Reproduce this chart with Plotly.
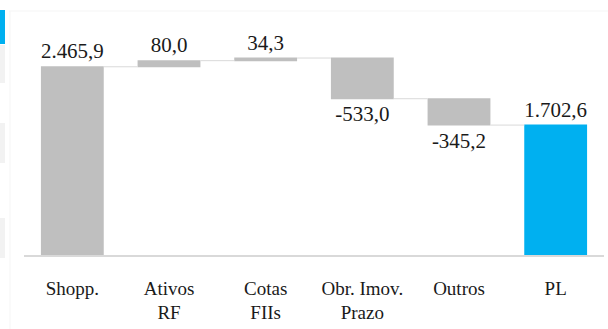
import plotly.graph_objects as go

# Waterfall: from shopping-mall assets to net equity (PL)
categories = ["Shopp.", "Ativos<br>RF", "Cotas<br>FIIs", "Obr. Imov.<br>Prazo", "Outros", "PL"]
values = [2465.9, 80.0, 34.3, -533.0, -345.2, 1702.6]
measures = ["relative", "relative", "relative", "relative", "relative", "absolute"]

GRAY = "#BFBFBF"
BLUE = "#00B0F0"
FONT = "Liberation Serif"


def fmt_br(v):
    s = f"{v:,.1f}"
    return s.replace(",", "X").replace(".", ",").replace("X", ".")


labels = [fmt_br(v) for v in values]

fig = go.Figure(
    go.Waterfall(
        x=categories,
        y=values,
        measure=measures,
        text=labels,
        textposition="outside",
        textfont=dict(family=FONT, size=21, color="#1a1a1a"),
        cliponaxis=False,
        increasing=dict(marker=dict(color=GRAY)),
        decreasing=dict(marker=dict(color=GRAY)),
        totals=dict(marker=dict(color=BLUE)),
        connector=dict(mode="between", line=dict(color="#D9D9D9", width=1)),
        hoverinfo="skip",
    )
)

# thin side panels at the far left edge of the page
px_w, px_h = 608, 329
plot_l, plot_r, plot_t, plot_b = 24, 4, 26, 74
dom_w = px_w - plot_l - plot_r
dom_h = px_h - plot_t - plot_b


def px_x(x):
    return (x - plot_l) / dom_w


def px_y(y):
    return (px_h - plot_b - y) / dom_h


side_panels = [
    (0, 10, 5, 44, BLUE),
    (0, 45, 5, 83, "#F2F2F2"),
    (0, 123, 5, 163, "#F2F2F2"),
    (0, 218, 5, 258, "#F2F2F2"),
]
shapes = []
for x0, y0, x1, y1, col in side_panels:
    shapes.append(dict(type="rect", xref="paper", yref="paper",
                       x0=px_x(x0), x1=px_x(x1), y0=px_y(y1), y1=px_y(y0),
                       fillcolor=col, line=dict(width=0), layer="below"))
shapes.append(dict(type="line", xref="paper", yref="paper",
                   x0=px_x(9), x1=px_x(608), y0=px_y(11), y1=px_y(11),
                   line=dict(color="#F5F5F5", width=1)))
shapes.append(dict(type="line", xref="paper", yref="paper",
                   x0=px_x(10), x1=px_x(10), y0=px_y(11), y1=px_y(329),
                   line=dict(color="#F5F5F5", width=1)))

fig.update_layout(
    width=px_w,
    height=px_h,
    margin=dict(l=plot_l, r=plot_r, t=plot_t, b=plot_b),
    font=dict(family=FONT, color="#1a1a1a"),
    paper_bgcolor="white",
    plot_bgcolor="white",
    showlegend=False,
    waterfallgap=0.35,
    shapes=shapes,
    xaxis=dict(
        showline=True,
        linecolor="#D9D9D9",
        linewidth=1.5,
        showgrid=False,
        ticks="",
        ticklabelstandoff=15,
        tickfont=dict(family=FONT, size=19, color="#1a1a1a"),
        fixedrange=True,
    ),
    yaxis=dict(
        visible=False,
        range=[0, 3000],
        showgrid=False,
        zeroline=False,
        fixedrange=True,
    ),
)

fig.write_html("out.html", config={"displayModeBar": False})
